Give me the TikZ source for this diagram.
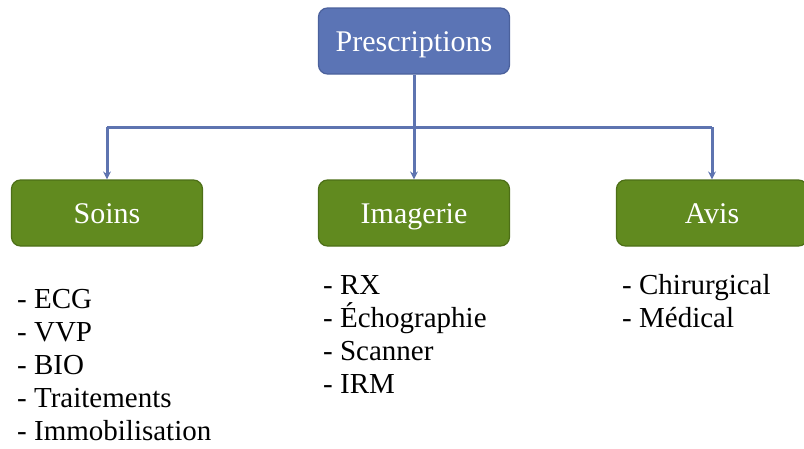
\documentclass[tikz,border=0pt]{standalone}
\usepackage{fontspec}
\setmainfont{Liberation Serif}
\usepackage{tikz}
\usetikzlibrary{positioning, arrows.meta}
\definecolor{headBlue}{HTML}{5B74B5}
\definecolor{headEdge}{HTML}{4B619C}
\definecolor{leafGreen}{HTML}{618A1F}
\definecolor{leafEdge}{HTML}{4D6F17}
\definecolor{linkBlue}{HTML}{5E74B0}

\tikzset{
  headbox/.style={draw=headEdge, fill=headBlue, line width=1.2pt, rounded corners=9pt,
    minimum width=191pt, minimum height=66pt, text height=22pt, text depth=1pt,
    text=white, font=\fontsize{30}{34}\selectfont},
  leafbox/.style={headbox, draw=leafEdge, fill=leafGreen},
  itemlist/.style={align=left, inner sep=0pt, anchor=base west,
    font=\fontsize{29}{33}\selectfont},
  link/.style={draw=linkBlue, line width=3pt},
}

\begin{document}
\begin{tikzpicture}[x=1pt, y=-1pt]
\useasboundingbox (0,0) rectangle (804,448);

\node[headbox] (presc) at (414,41) {Prescriptions};

\node[leafbox] (soins) at (107,213) {Soins};
\node[leafbox] (imagerie) at (414,213) {Imagerie};
\node[leafbox] (avis) at (712,213) {Avis};

\coordinate (bus) at (414,127);

\draw[link] (presc) -- (bus);
\draw[link] (bus -| soins) -- (bus -| avis);
\draw[link, -{Stealth[length=8pt, width=8pt]}] (bus -| soins) -- (soins);
\draw[link, -{Stealth[length=8pt, width=8pt]}] (bus) -- (imagerie);
\draw[link, -{Stealth[length=8pt, width=8pt]}] (bus -| avis) -- (avis);

% base anchor = last line
\node[itemlist] (soinsList) at (17,440)
{- ECG\\- VVP\\- BIO\\- Traitements\\- Immobilisation};
\node[itemlist] (imagerieList) at (323,393)
{- RX\\- Échographie\\- Scanner\\- IRM};
\node[itemlist] (avisList) at (622,327)
{- Chirurgical\\- Médical};

\end{tikzpicture}
\end{document}
